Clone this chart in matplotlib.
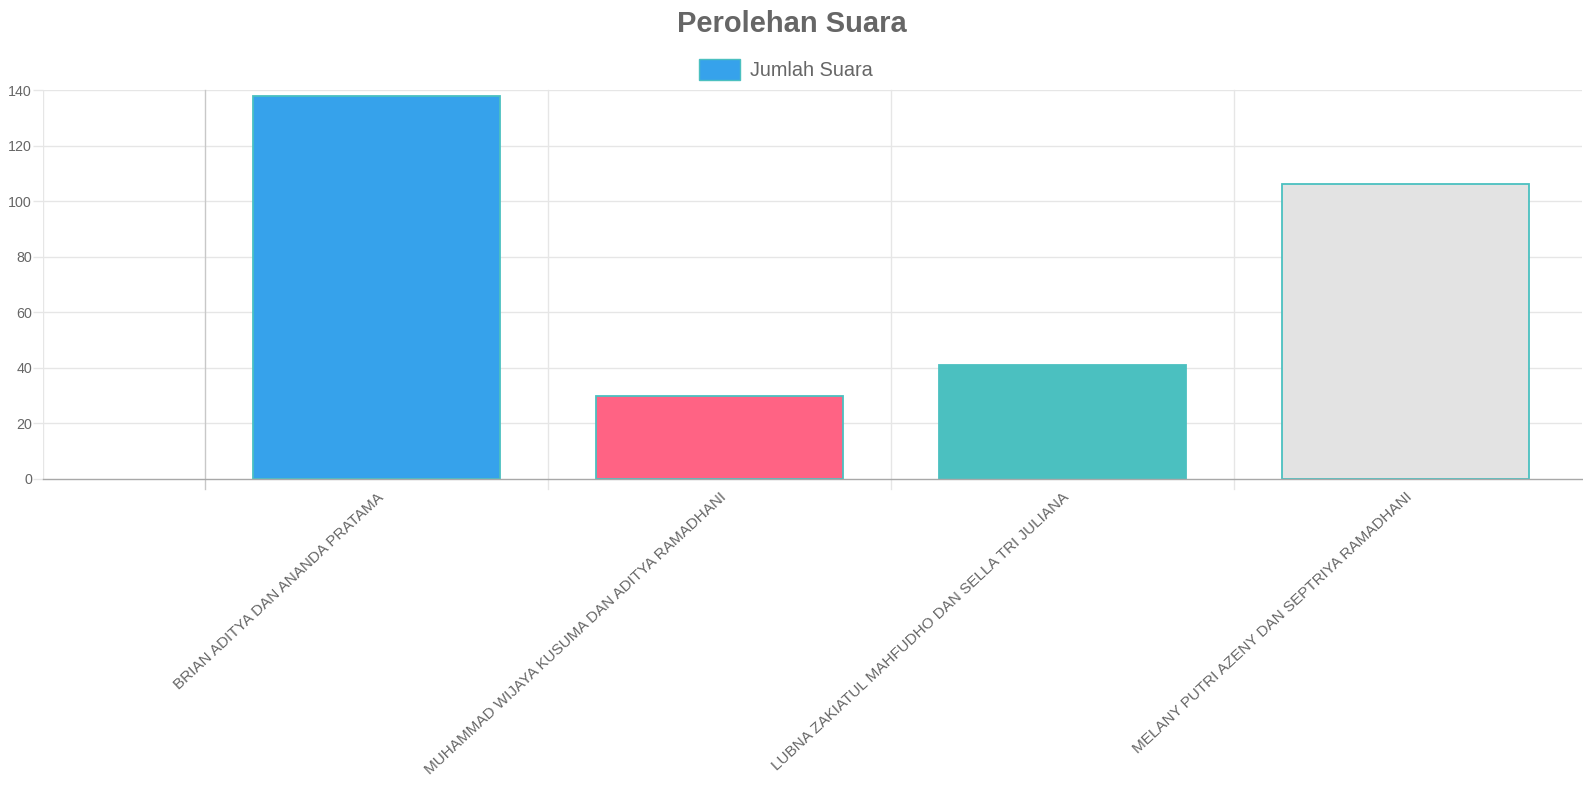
import matplotlib.pyplot as plt
import numpy as np

plt.rcParams['font.family'] = ['Liberation Sans', 'DejaVu Sans']

# data
kandidat = [
    "BRIAN ADITYA DAN ANANDA PRATAMA",
    "MUHAMMAD WIJAYA KUSUMA DAN ADITYA RAMADHANI",
    "LUBNA ZAKIATUL MAHFUDHO DAN SELLA TRI JULIANA",
    "MELANY PUTRI AZENY DAN SEPTRIYA RAMADHANI",
]
jumlah_suara = [138, 30, 41, 106]
warna = ['#36A2EB', '#FF6384', '#4BC0C0', '#E3E3E3']
y_ticks = [0, 20, 40, 60, 80, 100, 120, 140]

text_col = '#666666'
grid_col = '#e6e6e6'

fig = plt.figure(figsize=(15.83, 7.91), dpi=100)
ax = fig.add_axes([43 / 1583, 1 - 479 / 791, (1582 - 43) / 1583, (479 - 90) / 791])

x = np.arange(len(kandidat))
ax.bar(x, jumlah_suara, width=0.72, color=warna, edgecolor='#4BC0C0',
       linewidth=1.3, zorder=3)

ax.set_xlim(-0.972, 3.515)
ax.set_ylim(0, 140)

# grid
ax.set_yticks(y_ticks)
for yv in y_ticks[1:]:
    ax.axhline(yv, color=grid_col, lw=1, zorder=1)
bounds = np.arange(-0.5, len(kandidat) - 1, 1)
for i, b in enumerate(bounds):
    c = '#c8c8c8' if i == 0 else grid_col
    ax.plot([b, b], [-3.5, 140], color=c, lw=1, zorder=1, clip_on=False)
ax.axvline(-0.972, color=grid_col, lw=1, zorder=1)

for s in ['top', 'right', 'left']:
    ax.spines[s].set_visible(False)
ax.spines['bottom'].set_color('#a8a8a8')
ax.spines['bottom'].set_linewidth(1)
ax.spines['bottom'].set_zorder(4)

ax.tick_params(axis='y', colors=text_col, labelsize=10.3, length=7, width=1,
               pad=1, color=grid_col)
ax.set_xticks(x)
ax.set_xticklabels(kandidat, rotation=43, ha='right', rotation_mode='anchor',
                   fontsize=11, color=text_col)
ax.tick_params(axis='x', length=0, pad=8)

fig.text(0.5, 1 - 24 / 791, 'Perolehan Suara', ha='center', va='center',
         fontsize=21, fontweight='bold', color=text_col)

# legend
fig.patches.append(plt.Rectangle((699 / 1583, 1 - 80 / 791), 41 / 1583, 21 / 791,
                                 transform=fig.transFigure, facecolor='#36A2EB',
                                 edgecolor='#4BC0C0', linewidth=1))
fig.text(750 / 1583, 1 - 70 / 791, 'Jumlah Suara', ha='left', va='center',
         fontsize=14.3, color=text_col)

fig.savefig('out.png', dpi=100)
